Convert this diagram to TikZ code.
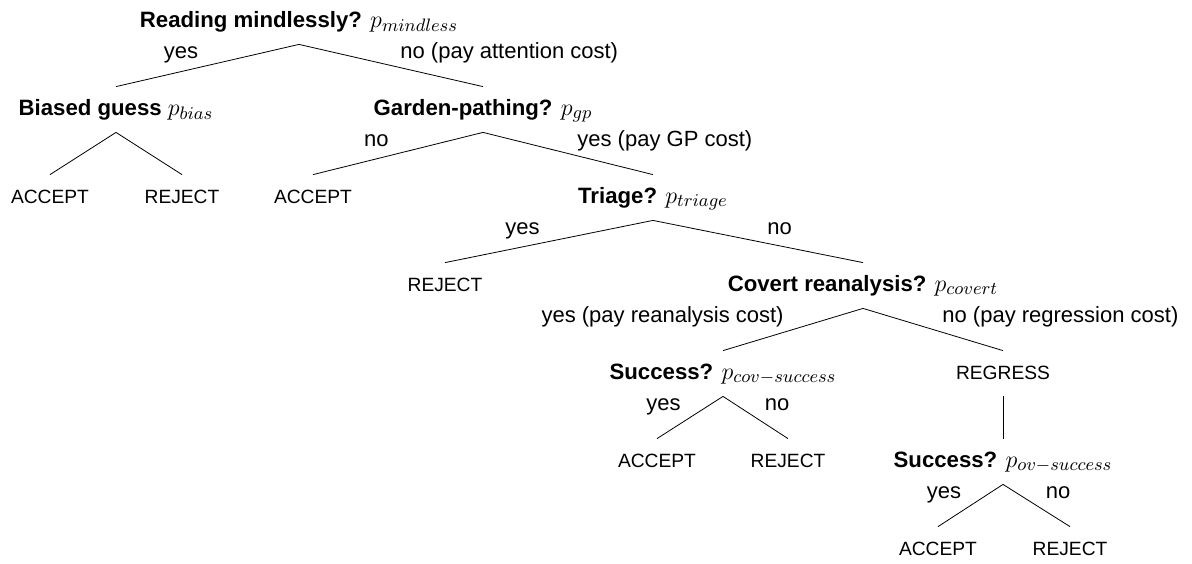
\documentclass[tikz,border=0pt]{standalone}
\usepackage{fontspec}
\setmainfont{Liberation Sans}
\usepackage{tikz}
\newcommand{\pname}[1]{{\fontsize{12.3}{14}\selectfont$p_{#1}$}}

\begin{document}
\begin{tikzpicture}[x=0.5pt, y=-0.5pt,
        every node/.style={font=\fontsize{11}{13}\selectfont},
        tnode/.style={inner sep=0pt, text height=14pt, text depth=8.5pt, anchor=base},
        ques/.style={tnode, font=\fontsize{11.1}{13}\selectfont\bfseries},
        leaf/.style={tnode, font=\fontsize{9.6}{11}\selectfont},
        lbl/.style={inner xsep=4.5pt, inner ysep=1pt, text depth=2.5pt}]
      \useasboundingbox (0,0) rectangle (1192,563);
      % decision nodes
      \node[ques] (mind) at (299,27) {Reading mindlessly? \pname{mindless}};
      \node[ques] (bias) at (116,115) {Biased guess \pname{bias}};
      \node[ques] (gp) at (483,115) {Garden-pathing? \pname{gp}};
      \node[ques] (triage) at (653,203) {Triage? \pname{triage}};
      \node[ques] (covert) at (863,291) {Covert reanalysis? \pname{covert}};
      \node[ques] (covsucc) at (723,379) {Success? \pname{cov-success}};
      \node[leaf] (regress) at (1003,379) {REGRESS};
      \node[ques] (ovsucc) at (1003,467) {Success? \pname{ov-success}};
      % outcomes
      \node[leaf] (acc1) at (50,203) {ACCEPT};
      \node[leaf] (rej1) at (182,203) {REJECT};
      \node[leaf] (acc2) at (313,203) {ACCEPT};
      \node[leaf] (rej2) at (445,291) {REJECT};
      \node[leaf] (acc3) at (657,467) {ACCEPT};
      \node[leaf] (rej3) at (788,467) {REJECT};
      \node[leaf] (acc4) at (938,555) {ACCEPT};
      \node[leaf] (rej4) at (1070,555) {REJECT};
      % branches
      \draw (mind.south) -- node[lbl, anchor=south east] {yes} (bias.north);
      \draw (mind.south) -- node[lbl, anchor=south west] {no (pay attention cost)} (gp.north);
      \draw (bias.south) -- (acc1.north);
      \draw (bias.south) -- (rej1.north);
      \draw (gp.south) -- node[lbl, anchor=south east] {no} (acc2.north);
      \draw (gp.south) -- node[lbl, anchor=south west] {yes (pay GP cost)} (triage.north);
      \draw (triage.south) -- node[lbl, anchor=south east] {yes} (rej2.north);
      \draw (triage.south) -- node[lbl, anchor=south west] {no} (covert.north);
      \draw (covert.south) -- node[lbl, anchor=south east] {yes (pay reanalysis cost)} (covsucc.north);
      \draw (covert.south) -- node[lbl, anchor=south west] {no (pay regression cost)} (regress.north);
      \draw (covsucc.south) -- node[lbl, anchor=south east] {yes} (acc3.north);
      \draw (covsucc.south) -- node[lbl, anchor=south west] {no} (rej3.north);
      \draw (regress.south) -- (ovsucc.north);
      \draw (ovsucc.south) -- node[lbl, anchor=south east] {yes} (acc4.north);
      \draw (ovsucc.south) -- node[lbl, anchor=south west] {no} (rej4.north);
    \end{tikzpicture}
\end{document}
